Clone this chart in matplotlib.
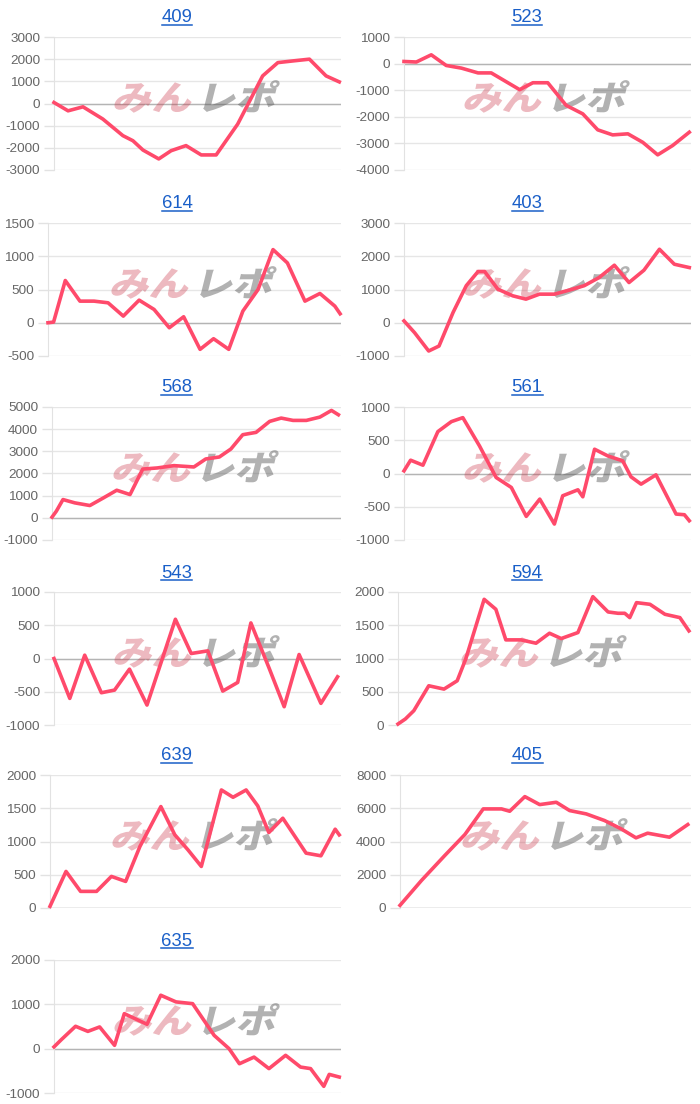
import numpy as np
import matplotlib
matplotlib.use("Agg")
import matplotlib.pyplot as plt
from matplotlib.textpath import TextPath
from matplotlib.patches import PathPatch
from matplotlib.font_manager import FontProperties
from matplotlib.transforms import Affine2D, IdentityTransform
from matplotlib.lines import Line2D

plt.rcParams['font.family'] = ['Liberation Sans', 'DejaVu Sans']
plt.rcParams['axes.unicode_minus'] = False

# --- data: x is position along the period (0-100), y is the differential ---
names = ['409', '523', '614', '403', '568', '561', '543', '594', '639', '405', '635']

x_409 = [0, 4.9, 10.1, 17, 24, 27.5, 31, 36.5, 40.8, 46, 51.3, 56.5, 64, 72.7, 78, 83.2, 89, 94.8, 99.4]
y_409 = [45, -330, -150, -700, -1450, -1680, -2100, -2500, -2130, -1900, -2320, -2320, -930, 1245, 1845, 1920, 2000, 1245, 975]

x_523 = [0, 4.3, 9.5, 14.7, 20, 25.8, 30.4, 40.3, 44.9, 50.1, 56.5, 62.3, 67.5, 72.7, 78, 83.2, 88.4, 93.6, 99.4]
y_523 = [80, 60, 330, -70, -170, -350, -350, -980, -720, -720, -1570, -1890, -2490, -2680, -2640, -2960, -3430, -3080, -2580]

x_614 = [0, 1.9, 5.9, 10.9, 15.7, 20.5, 25.7, 31.1, 36.2, 41.4, 46.3, 51.9, 56.5, 61.7, 66.5, 71.7, 76.8, 81.7, 87.7, 92.8, 97.9, 99.7]
y_614 = [0, 10, 635, 325, 325, 300, 100, 340, 200, -75, 90, -400, -240, -400, 175, 500, 1100, 900, 325, 440, 250, 135]

x_403 = [0, 3.7, 8.6, 12.2, 17.1, 21.7, 25.8, 28.1, 32.7, 37.9, 42.5, 47.2, 52.4, 57.5, 62.8, 68, 73.3, 78.4, 83.6, 89, 94.2, 99.4]
y_403 = [55, -300, -850, -700, 310, 1115, 1540, 1540, 1010, 810, 710, 860, 860, 980, 1115, 1360, 1730, 1210, 1580, 2210, 1760, 1660]

x_568 = [0, 1.5, 3.8, 7.9, 13.1, 17.8, 22.4, 27, 31.4, 36.4, 42.2, 49.1, 53.2, 57.9, 61.9, 66, 70.6, 75.3, 79.3, 83.4, 88, 92.7, 96.7, 99.1]
y_568 = [30, 300, 825, 675, 555, 900, 1245, 1050, 2200, 2250, 2355, 2295, 2655, 2745, 3105, 3750, 3855, 4350, 4500, 4395, 4395, 4545, 4845, 4650]

x_561 = [0, 2.3, 6.6, 11.8, 16.5, 20.5, 26.3, 32.1, 37.4, 42.6, 47.3, 52.4, 55.3, 60.6, 62.3, 66.4, 71, 76.2, 79.1, 82.6, 87.8, 94.8, 97.7, 99.4]
y_561 = [40, 200, 125, 630, 780, 840, 415, -60, -210, -645, -385, -760, -335, -245, -350, 365, 265, 190, -50, -160, -20, -610, -620, -710]

x_543 = [0, 5.5, 10.7, 16.5, 21.1, 26.3, 32.4, 42.3, 47.8, 53.6, 58.8, 64, 68.6, 75, 80.2, 85.4, 93, 98.8]
y_543 = [0, -600, 50, -515, -475, -160, -700, 590, 75, 115, -490, -360, 535, -150, -725, 60, -675, -275]

x_594 = [0, 2.5, 5.4, 10.5, 15.7, 20.2, 23.1, 29.4, 33.4, 36.8, 42, 47.1, 51.7, 55.7, 61.4, 66.5, 71.7, 75.1, 77.4, 79.1, 81.4, 86, 91.1, 96.2, 99.3]
y_594 = [15, 90, 215, 590, 540, 665, 990, 1890, 1740, 1280, 1280, 1230, 1380, 1300, 1390, 1930, 1700, 1680, 1680, 1615, 1840, 1815, 1665, 1615, 1415]

x_639 = [0, 5.5, 10.5, 16, 21.1, 26, 30.9, 38.1, 42.9, 47.4, 52, 58.9, 62.9, 67.4, 71.4, 75.2, 80, 88, 93.1, 98, 99.4]
y_639 = [25, 550, 250, 250, 475, 400, 925, 1525, 1100, 875, 625, 1775, 1665, 1775, 1535, 1135, 1350, 825, 785, 1185, 1100]

x_405 = [0, 7.4, 15.4, 22.3, 28.6, 34.9, 37.7, 42.9, 48, 53.7, 58.3, 64, 70.3, 76, 81.1, 85.1, 92.6, 98.9]
y_405 = [160, 1660, 3160, 4420, 5960, 5960, 5820, 6700, 6220, 6360, 5860, 5660, 5260, 4760, 4220, 4500, 4260, 5020]

x_635 = [0, 2.5, 7.5, 11.8, 15.9, 21.1, 24.5, 32.4, 37.2, 42.5, 48.3, 55.8, 61, 64.6, 69.7, 74.9, 80.7, 85.9, 89.4, 94, 95.9, 99.4]
y_635 = [40, 200, 505, 390, 490, 75, 790, 550, 1205, 1055, 1015, 300, 0, -340, -190, -450, -150, -415, -450, -850, -580, -640]

xs = [x_409, x_523, x_614, x_403, x_568, x_561, x_543, x_594, x_639, x_405, x_635]
ys = [y_409, y_523, y_614, y_403, y_568, y_561, y_543, y_594, y_639, y_405, y_635]

# y axis ranges (min, max, step)
y_ranges = [(-3000, 3000, 1000), (-4000, 1000, 1000), (-500, 1500, 500), (-1000, 3000, 1000),
            (-1000, 5000, 1000), (-1000, 1000, 500), (-1000, 1000, 500), (0, 2000, 500),
            (0, 2000, 500), (0, 8000, 2000), (-1000, 2000, 1000)]

# --- layout in pixels ---
W, H = 700, 1104
row_tops = [37, 223, 407, 592, 775, 960]
lefts = [54, 54, 48, 54, 52, 54, 54, 48, 50, 50, 54]
plot_h = 133
plot_right = 341

line_color = '#ff4a6b'
title_color = '#1a5fc8'

fig = plt.figure(figsize=(W / 100, H / 100), dpi=100)

fp = FontProperties(family='Noto Sans CJK JP', weight=900)
logo_pink = TextPath((0, 0), 'みん', size=36, prop=fp)
logo_gray = TextPath((0, 0), 'レポ', size=36, prop=fp)

titles = []
for i, name in enumerate(names):
    row, col = divmod(i, 2)
    cx = col * 350
    top = row_tops[row]
    left = cx + lefts[i]
    right = cx + plot_right
    ax = fig.add_axes([left / W, 1 - (top + plot_h) / H, (right - left) / W, plot_h / H])

    y0, y1, step = y_ranges[i]
    ticks = np.arange(y0, y1 + step, step)
    ax.set_ylim(y0, y1)
    ax.set_xlim(0, 100)
    ax.set_yticks(ticks)
    ax.set_yticklabels([str(int(t)) for t in ticks])
    ax.set_xticks([])
    ax.tick_params(axis='y', length=7, width=1, color='#e2e2e2', pad=3,
                   labelsize=9.7, labelcolor='#666666')
    for s in ['top', 'right', 'bottom']:
        ax.spines[s].set_visible(False)
    ax.spines['left'].set_color('#e2e2e2')
    ax.grid(axis='y', color='#e6e6e6', linewidth=1)
    ax.set_axisbelow(True)
    ax.axhline(0, color='#b4b4b4', linewidth=1, zorder=1)

    ax.plot(xs[i], ys[i], color=line_color, linewidth=2.6, zorder=4,
            solid_joinstyle='round', clip_on=False)

    # watermark logo
    fig.canvas.draw()
    px, py = ax.transAxes.transform((0.49, 0.556))
    sk = Affine2D().scale(1.1, 0.95).skew_deg(14, 0)
    tr1 = sk + Affine2D().translate(px - 83, py - 14)
    tr2 = sk + Affine2D().translate(px + 1, py - 14)
    ax.add_artist(PathPatch(logo_pink, transform=tr1, facecolor='#c8283c', edgecolor='none',
                            alpha=0.32, zorder=3, clip_on=False))
    ax.add_artist(PathPatch(logo_gray, transform=tr2, facecolor='#555555', edgecolor='none',
                            alpha=0.45, zorder=3, clip_on=False))

    # title
    tx = cx + 177
    base = top - 14.5
    t = fig.text(tx / W, 1 - base / H, name, ha='center', va='baseline',
                 fontsize=13.3, color=title_color)
    titles.append((t, base))

fig.canvas.draw()
r = fig.canvas.get_renderer()
for t, base in titles:
    bb = t.get_window_extent(r)
    yy = H - base - 2
    fig.add_artist(Line2D([bb.x0, bb.x1], [yy, yy], transform=IdentityTransform(),
                          color=title_color, linewidth=1.1))

fig.savefig('out.png', dpi=100)
